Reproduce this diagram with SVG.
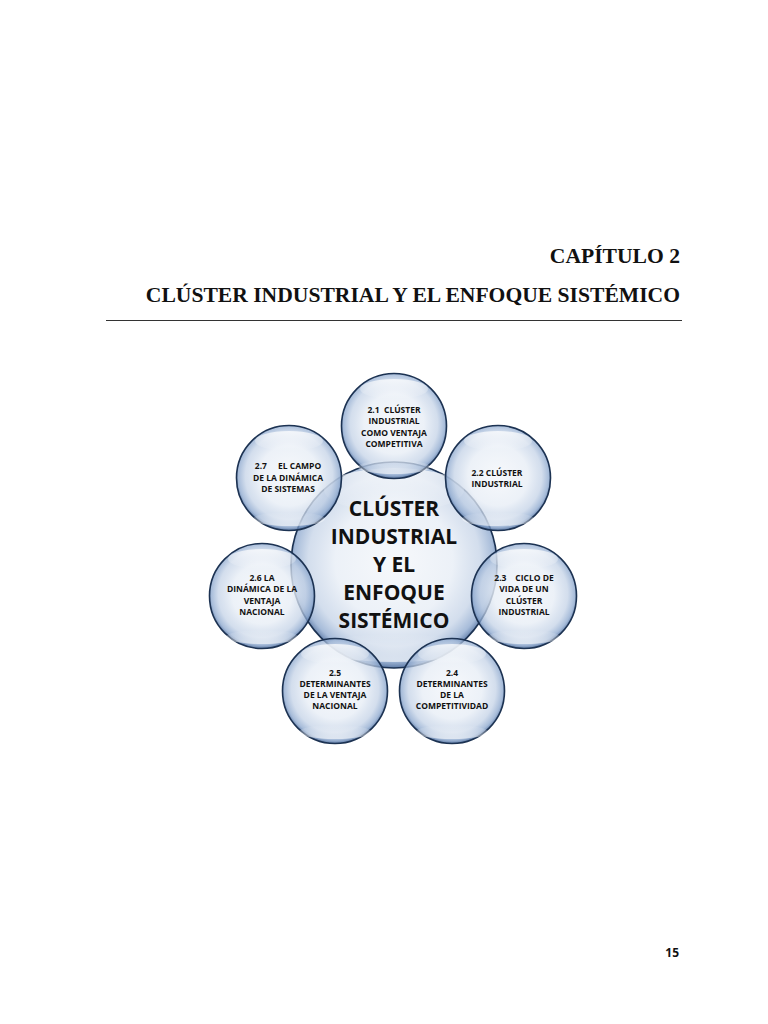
<svg xmlns="http://www.w3.org/2000/svg" width="768" height="1024" viewBox="0 0 768 1024">
<defs>
<radialGradient id="bub" cx="50%" cy="48%" r="52%">
<stop offset="0%" stop-color="#f6f8fb" stop-opacity="0.9"/>
<stop offset="55%" stop-color="#e8eef6" stop-opacity="0.82"/>
<stop offset="80%" stop-color="#c2d1e6" stop-opacity="0.72"/>
<stop offset="93%" stop-color="#8aa6cd" stop-opacity="0.75"/>
<stop offset="100%" stop-color="#4a6b9c" stop-opacity="0.9"/>
</radialGradient>
<linearGradient id="shine" x1="0" y1="0" x2="0" y2="1">
<stop offset="0%" stop-color="#ffffff" stop-opacity="0.75"/>
<stop offset="100%" stop-color="#ffffff" stop-opacity="0"/>
</linearGradient>
<linearGradient id="glow" x1="0" y1="1" x2="0" y2="0">
<stop offset="0%" stop-color="#ffffff" stop-opacity="0.6"/>
<stop offset="100%" stop-color="#ffffff" stop-opacity="0"/>
</linearGradient>
<style>
.b{fill:url(#bub);stroke:#1c3252;stroke-width:1.6}
.s{fill:url(#shine)}
.g{fill:url(#glow)}
.t{font-family:"Open Sans","Liberation Sans",sans-serif;font-weight:bold;font-size:8.5px;fill:#111;text-anchor:middle;white-space:pre}
.c{font-family:"Open Sans","Liberation Sans",sans-serif;font-weight:bold;font-size:21px;fill:#111;text-anchor:middle}
.h{font-family:"Liberation Serif","Times New Roman",serif;font-weight:bold;font-size:21.6px;fill:#111;text-anchor:end}
</style>
</defs>
<rect width="768" height="1024" fill="#ffffff"/>
<g id="header">
<text class="h" x="680" y="263">CAPÍTULO 2</text>
<text class="h" x="680" y="302">CLÚSTER INDUSTRIAL Y EL ENFOQUE SISTÉMICO</text>
<line x1="106" y1="320.5" x2="682" y2="320.5" stroke="#333" stroke-width="1.2"/>
</g>
<g id="connectors"></g>
<g id="center">
<circle class="b" cx="394" cy="565" r="103"/>
<ellipse class="s" cx="394" cy="490" rx="70" ry="22"/>
<ellipse class="g" cx="394" cy="648" rx="72" ry="14"/>
<text class="c" x="394" y="516">CLÚSTER</text>
<text class="c" x="394" y="544">INDUSTRIAL</text>
<text class="c" x="394" y="572">Y EL</text>
<text class="c" x="394" y="600">ENFOQUE</text>
<text class="c" x="394" y="628">SISTÉMICO</text>
</g>
<g id="n21">
<circle class="b" cx="394" cy="426" r="52.5"/>
<ellipse class="s" cx="394" cy="389" rx="34" ry="10"/>
<ellipse class="g" cx="394" cy="467" rx="36" ry="7"/>
<text class="t" x="394" y="413">2.1  CLÚSTER</text>
<text class="t" x="394" y="424">INDUSTRIAL</text>
<text class="t" x="394" y="435.5">COMO VENTAJA</text>
<text class="t" x="394" y="446.5">COMPETITIVA</text>
</g>
<g id="n22">
<circle class="b" cx="498" cy="478" r="52.5"/>
<ellipse class="s" cx="498" cy="441" rx="34" ry="10"/>
<ellipse class="g" cx="498" cy="519" rx="36" ry="7"/>
<text class="t" x="497" y="476">2.2 CLÚSTER</text>
<text class="t" x="497" y="487">INDUSTRIAL</text>
</g>
<g id="n23">
<circle class="b" cx="524" cy="596" r="52.5"/>
<ellipse class="s" cx="524" cy="559" rx="34" ry="10"/>
<ellipse class="g" cx="524" cy="637" rx="36" ry="7"/>
<text class="t" x="524" y="581">2.3    CICLO DE</text>
<text class="t" x="524" y="592">VIDA DE UN</text>
<text class="t" x="524" y="603.5">CLÚSTER</text>
<text class="t" x="524" y="615">INDUSTRIAL</text>
</g>
<g id="n24">
<circle class="b" cx="452" cy="691" r="52.5"/>
<ellipse class="s" cx="452" cy="654" rx="34" ry="10"/>
<ellipse class="g" cx="452" cy="732" rx="36" ry="7"/>
<text class="t" x="452" y="676">2.4</text>
<text class="t" x="452" y="687">DETERMINANTES</text>
<text class="t" x="452" y="698">DE LA</text>
<text class="t" x="452" y="709">COMPETITIVIDAD</text>
</g>
<g id="n25">
<circle class="b" cx="335" cy="691" r="52.5"/>
<ellipse class="s" cx="335" cy="654" rx="34" ry="10"/>
<ellipse class="g" cx="335" cy="732" rx="36" ry="7"/>
<text class="t" x="335" y="676">2.5</text>
<text class="t" x="335" y="687">DETERMINANTES</text>
<text class="t" x="335" y="698">DE LA VENTAJA</text>
<text class="t" x="335" y="709">NACIONAL</text>
</g>
<g id="n26">
<circle class="b" cx="262" cy="596" r="52.5"/>
<ellipse class="s" cx="262" cy="559" rx="34" ry="10"/>
<ellipse class="g" cx="262" cy="637" rx="36" ry="7"/>
<text class="t" x="262" y="581">2.6 LA</text>
<text class="t" x="262" y="592">DINÁMICA DE LA</text>
<text class="t" x="262" y="603.5">VENTAJA</text>
<text class="t" x="262" y="615">NACIONAL</text>
</g>
<g id="n27">
<circle class="b" cx="289" cy="478" r="52.5"/>
<ellipse class="s" cx="289" cy="441" rx="34" ry="10"/>
<ellipse class="g" cx="289" cy="519" rx="36" ry="7"/>
<text class="t" x="288" y="469">2.7     EL CAMPO</text>
<text class="t" x="288" y="481">DE LA DINÁMICA</text>
<text class="t" x="288" y="492">DE SISTEMAS</text>
</g>
<g id="page">
<text x="679" y="957" style="font-family:'Open Sans','Liberation Sans',sans-serif;font-weight:bold;font-size:12px;fill:#111;text-anchor:end">15</text>
</g>
</svg>
